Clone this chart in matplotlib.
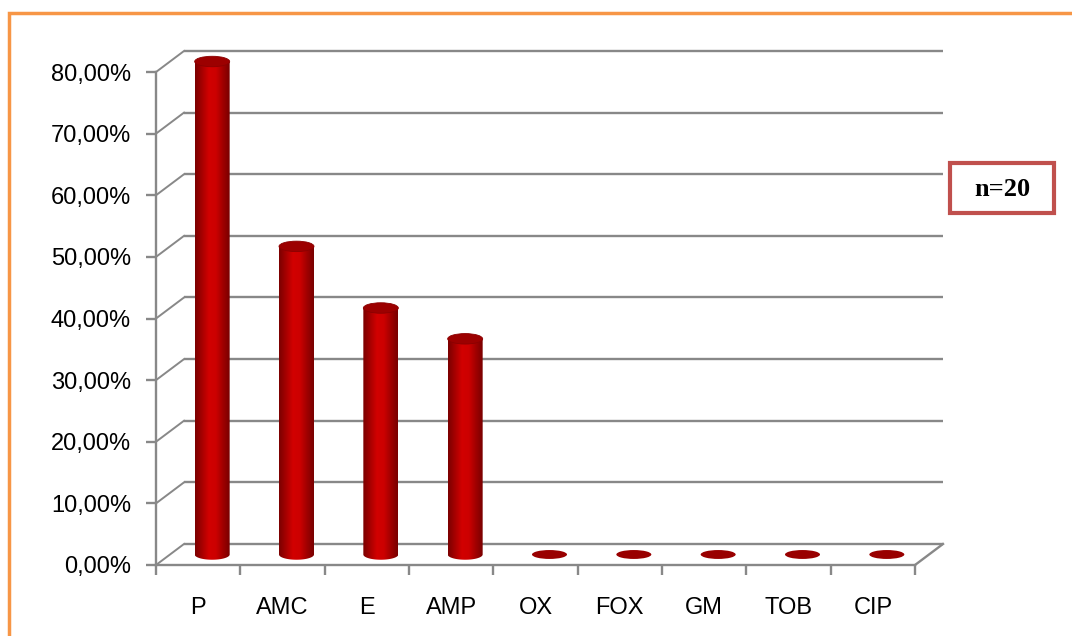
import numpy as np
import matplotlib.pyplot as plt
from matplotlib.patches import Ellipse, PathPatch, Rectangle
from matplotlib.path import Path
from matplotlib.colors import LinearSegmentedColormap

categories = ["P", "AMC", "E", "AMP", "OX", "FOX", "GM", "TOB", "CIP"]
values = [80, 50, 40, 35, 0, 0, 0, 0, 0]
yticks = list(range(0, 81, 10))
note = "n=20"

# depth of the 3d box, in data units (categories / percent)
DX = 0.332
DY = 3.41
BAR_W = 0.415
ELL_H = 1.7

GRID = "#888888"
cyl_cmap = LinearSegmentedColormap.from_list(
    "cyl", ["#7a0000", "#a60000", "#d20000", "#cc0000", "#a00000", "#780000"])


def fmt_pct(v):
    return ("%.2f%%" % v).replace(".", ",")


def main():
    plt.rcParams["font.family"] = ["Liberation Sans", "DejaVu Sans"]
    fig = plt.figure(figsize=(10.72, 6.36), dpi=100)
    W, H = 1072, 636
    ax = fig.add_axes([156 / W, (H - 565) / H, 787 / W, 514 / H])
    ax.set_facecolor("none")

    n = len(categories)
    ymax = max(yticks)

    # back wall gridlines and the diagonals on the side wall
    for v in yticks:
        ax.plot([DX, n + DX], [v + DY, v + DY], color=GRID, lw=1.7,
                clip_on=False, solid_capstyle="butt")
        ax.plot([0, DX], [v, v + DY], color=GRID, lw=1.4, clip_on=False)
    # floor right edge
    ax.plot([n, n + DX], [0, DY], color=GRID, lw=1.7, clip_on=False)

    # cylinders
    grad = np.linspace(0, 1, 256).reshape(1, -1)
    for i, v in enumerate(values):
        cx = i + 0.5 + DX / 2
        base = DY / 2
        x0, x1 = cx - BAR_W / 2, cx + BAR_W / 2
        if v <= 0:
            ax.add_patch(Ellipse((cx, base), BAR_W, ELL_H * 0.85,
                                 facecolor="#990000", edgecolor="none", zorder=3))
            continue
        top = v + base
        t = np.linspace(np.pi, 2 * np.pi, 40)
        arc = np.column_stack([cx + BAR_W / 2 * np.cos(t),
                               base + ELL_H / 2 * np.sin(t)])
        verts = np.vstack([[x0, top], arc, [x1, top], [x0, top]])
        body = PathPatch(Path(verts), facecolor="none", edgecolor="none")
        ax.add_patch(body)
        im = ax.imshow(grad, cmap=cyl_cmap, aspect="auto", zorder=3,
                       extent=[x0, x1, base - ELL_H, top + ELL_H],
                       interpolation="bilinear")
        im.set_clip_path(body)
        ax.add_patch(Ellipse((cx, top), BAR_W, ELL_H, facecolor="#9c0000",
                             edgecolor="#8a0000", lw=0.6, zorder=4))

    ax.set_xlim(0, n + DX)
    ax.set_ylim(0, ymax + DY)

    for s in ["top", "right"]:
        ax.spines[s].set_visible(False)
    for s in ["left", "bottom"]:
        ax.spines[s].set_color(GRID)
        ax.spines[s].set_linewidth(1.7)
    ax.spines["left"].set_bounds(0, ymax)
    ax.spines["bottom"].set_bounds(0, n)

    ax.set_yticks(yticks)
    ax.set_yticklabels([fmt_pct(v) for v in yticks], fontsize=17)
    ax.tick_params(axis="y", length=7, width=1.7, color=GRID, pad=11,
                   labelcolor="black")
    ax.set_xticks(np.arange(n + 1))
    ax.set_xticklabels([])
    ax.set_xticks(np.arange(n) + 0.5, minor=True)
    ax.set_xticklabels(categories, minor=True, fontsize=17)
    ax.tick_params(axis="x", which="major", length=7, width=1.7, color=GRID)
    ax.tick_params(axis="x", which="minor", length=0, pad=23)

    # note box on the right
    fig.patches.append(Rectangle((950 / W, (H - 213) / H), 104 / W, 50 / H,
                                 transform=fig.transFigure, facecolor="white",
                                 edgecolor="#c0504d", lw=3))
    fig.text(1002 / W, (H - 189) / H, note, ha="center", va="center",
             fontsize=19, fontweight="bold", family="Liberation Serif")

    # orange frame around the chart area
    fig.patches.append(Rectangle((9 / W, -0.1), 1.2, (H - 13) / H + 0.1,
                                 transform=fig.transFigure, facecolor="none",
                                 edgecolor="#f79646", lw=2.5))

    fig.savefig("out.png", dpi=100, facecolor="white")


if __name__ == "__main__":
    main()
